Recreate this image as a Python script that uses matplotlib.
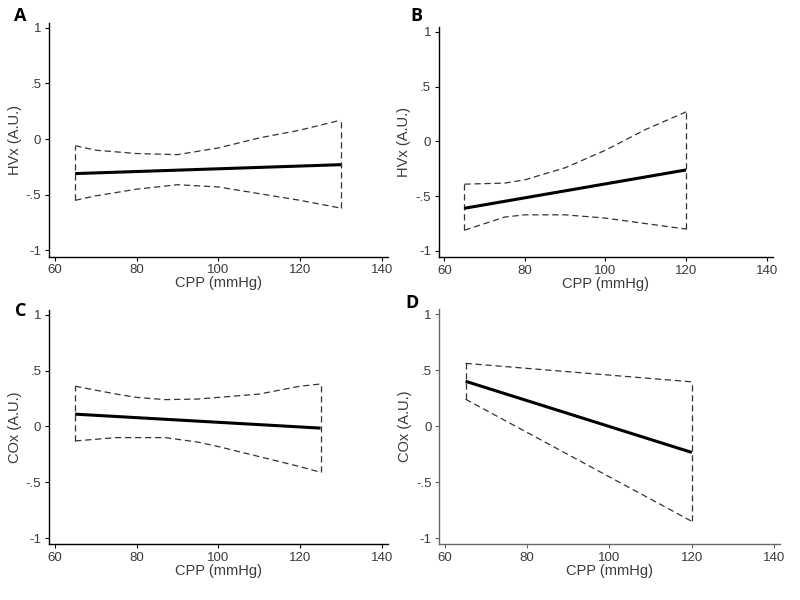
import numpy as np
import matplotlib.pyplot as plt

plt.rcParams['font.family'] = ['Liberation Sans', 'DejaVu Sans']

# panel A: HVx vs CPP
a_x = [65, 130]
a_fit = [-0.31, -0.23]
a_ci_x = [65, 70, 80, 90, 100, 110, 120, 130]
a_hi = [-0.06, -0.10, -0.13, -0.14, -0.08, 0.01, 0.08, 0.17]
a_lo = [-0.55, -0.51, -0.45, -0.41, -0.43, -0.49, -0.55, -0.62]

# panel B: HVx vs CPP
b_x = [65, 120]
b_fit = [-0.61, -0.26]
b_ci_x = [65, 75, 80, 90, 100, 110, 120]
b_hi = [-0.39, -0.38, -0.35, -0.24, -0.08, 0.11, 0.27]
b_lo = [-0.81, -0.69, -0.67, -0.67, -0.70, -0.75, -0.80]

# panel C: COx vs CPP
c_x = [65, 125]
c_fit = [0.11, -0.015]
c_ci_x = [65, 75, 80, 87, 95, 100, 110, 120, 125]
c_hi = [0.36, 0.29, 0.26, 0.24, 0.245, 0.26, 0.29, 0.36, 0.38]
c_lo = [-0.13, -0.10, -0.10, -0.10, -0.14, -0.18, -0.27, -0.36, -0.41]

# panel D: COx vs CPP
d_x = [65, 120]
d_fit = [0.40, -0.235]
d_ci_x = [65, 120]
d_hi = [0.56, 0.395]
d_lo = [0.24, -0.85]

yticks = [-1, -0.5, 0, 0.5, 1]
ytick_labels = ['-1', '-.5', '0', '.5', '1']
xticks = [60, 80, 100, 120, 140]

panels = [
    ('A', 'HVx (A.U.)', a_x, a_fit, a_ci_x, a_hi, a_lo, [49, 22.6, 339, 234], (20, 16), 'black'),
    ('B', 'HVx (A.U.)', b_x, b_fit, b_ci_x, b_hi, b_lo, [438.7, 27, 334, 230], (416, 16), 'black'),
    ('C', 'COx (A.U.)', c_x, c_fit, c_ci_x, c_hi, c_lo, [49, 309.7, 339, 234.6], (21, 311), 'black'),
    ('D', 'COx (A.U.)', d_x, d_fit, d_ci_x, d_hi, d_lo, [439.2, 309, 341, 235.3], (412, 303), '#666666'),
]

fig = plt.figure(figsize=(8, 6), dpi=100)
W, H = 800, 600

for letter, ylab, x, fit, cx, hi, lo, box, lpos, spc in panels:
    l, t, w, h = box
    ax = fig.add_axes([l / W, (H - t - h) / H, w / W, h / H])
    dash = dict(color='#333333', lw=0.9, ls=(0, (5, 3)))
    ax.plot(cx, hi, **dash)
    ax.plot(cx, lo, **dash)
    ax.plot([cx[0], cx[0]], [lo[0], hi[0]], **dash)
    ax.plot([cx[-1], cx[-1]], [lo[-1], hi[-1]], **dash)
    ax.plot(x, fit, color='black', lw=2.2, solid_capstyle='butt')
    ax.set_xlim(58.6, 141.5)
    ax.set_ylim(-1.055, 1.045)
    ax.set_xticks(xticks)
    ax.set_yticks(yticks)
    ax.set_yticklabels(ytick_labels)
    for s in ['top', 'right']:
        ax.spines[s].set_visible(False)
    for s in ['left', 'bottom']:
        ax.spines[s].set_color(spc)
        ax.spines[s].set_linewidth(1.0)
    ax.tick_params(direction='out', length=3, width=0.8, color=spc,
                   labelsize=9.5, labelcolor='#3a3a3a', pad=2.5)
    ax.set_xlabel('CPP (mmHg)', fontsize=10.5, color='#3a3a3a', labelpad=0)
    ax.set_ylabel(ylab, fontsize=10.5, color='#3a3a3a', labelpad=3)
    fig.text(lpos[0] / W, 1 - lpos[1] / H, letter, fontsize=13, fontweight='bold',
             ha='center', va='center', family=['Open Sans', 'DejaVu Sans'])

fig.savefig('out.png', dpi=100)
